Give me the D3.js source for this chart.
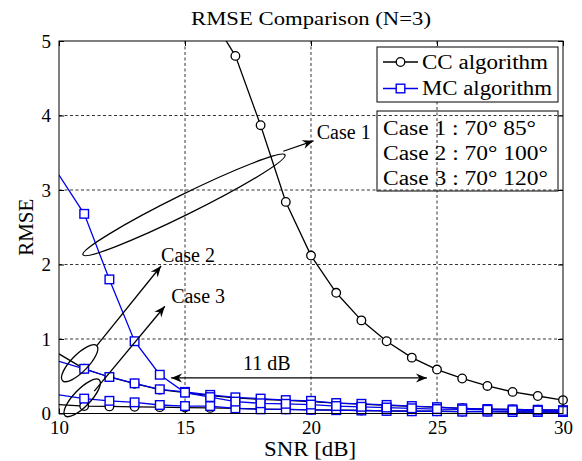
<!DOCTYPE html>
<html><head><meta charset="utf-8">
<script src="https://cdn.jsdelivr.net/npm/d3@7"></script>
<style>
html,body{margin:0;padding:0;background:#fff;}
</style></head>
<body><svg id="c" width="582" height="461"></svg>
<script>
// ---- data ----
const snr = [10,11,12,13,14,15,16,17,18,19,20,21,22,23,24,25,26,27,28,29,30];
const ccCase1 = [null,null,null,null,null,null,5.35,4.80,3.87,2.84,2.12,1.62,1.25,0.97,0.75,0.59,0.47,0.37,0.29,0.235,0.18];
const ccCase2 = [0.80,0.60,0.49,0.40,0.32,0.28,0.24,0.21,0.19,0.175,0.16,0.14,0.125,0.11,0.095,0.085,0.07,0.06,0.055,0.05,0.045];
const ccCase3 = [0.12,0.10,0.095,0.09,0.085,0.08,0.075,0.07,0.06,0.055,0.05,0.045,0.04,0.035,0.03,0.03,0.025,0.025,0.02,0.02,0.02];
const mcCase1 = [3.2,2.68,1.80,0.97,0.52,0.28,0.22,0.16,0.137,0.13,0.12,0.10,0.09,0.08,0.07,0.06,0.055,0.05,0.045,0.04,0.035];
const mcCase2 = [0.70,0.60,0.49,0.405,0.325,0.29,0.25,0.217,0.20,0.18,0.17,0.14,0.13,0.115,0.10,0.085,0.07,0.06,0.055,0.05,0.045];
const mcCase3 = [0.25,0.20,0.17,0.15,0.114,0.10,0.10,0.07,0.056,0.056,0.05,0.045,0.04,0.035,0.03,0.03,0.025,0.025,0.02,0.02,0.02];
const xTicks = [10,15,20,25,30];
const yTicks = [0,1,2,3,4,5];
const legendItems = ["CC algorithm","MC algorithm"];
const caseLines = ["Case 1 : 70\u00B0 85\u00B0","Case 2 : 70\u00B0 100\u00B0","Case 3 : 70\u00B0 120\u00B0"];
const title = "RMSE Comparison (N=3)";

// ---- layout ----
const FONT="'Liberation Serif','Times New Roman',Times,serif";
const L=59, R=563, T=41, B=413.5;
const BLUE="#0000ee";
const svg=d3.select("#c");
const x=d3.scaleLinear().domain([10,30]).range([L,R]);
const y=d3.scaleLinear().domain([0,5]).range([B,T]);

const defs=svg.append("defs");
defs.append("clipPath").attr("id","clipL").append("rect")
  .attr("x",L).attr("y",T).attr("width",R-L).attr("height",B-T);
defs.append("marker").attr("id","ah").attr("viewBox","-12 -6 14 12")
  .attr("refX",0).attr("refY",0).attr("markerWidth",14).attr("markerHeight",12)
  .attr("markerUnits","userSpaceOnUse").attr("orient","auto-start-reverse")
  .append("path").attr("d","M0,0 L-11,-4.5 L-7.5,0 L-11,4.5 Z").attr("fill","#000");

// grid
const g=svg.append("g");
g.selectAll(".gx").data(xTicks.slice(1,-1)).join("line")
  .attr("x1",d=>x(d)).attr("x2",d=>x(d)).attr("y1",T).attr("y2",B)
  .attr("stroke","#000").attr("stroke-width",0.8).attr("stroke-dasharray","3,2.5");
g.selectAll(".gy").data(yTicks.slice(1,-1)).join("line")
  .attr("x1",L).attr("x2",R).attr("y1",d=>y(d)).attr("y2",d=>y(d))
  .attr("stroke","#000").attr("stroke-width",0.8).attr("stroke-dasharray","3,2.5");

// axes with d3 axes (inward ticks)
const xAxis=svg.append("g").attr("transform",`translate(0,${B})`)
  .call(d3.axisBottom(x).tickValues(xTicks).tickFormat(d3.format("d")).tickSize(-5).tickPadding(7));
const yAxis=svg.append("g").attr("transform",`translate(${L},0)`)
  .call(d3.axisLeft(y).tickValues(yTicks).tickFormat(d3.format("d")).tickSize(-5).tickPadding(8));
[xAxis,yAxis].forEach(a=>{
  a.attr("font-family",null).attr("font-size",null);
  a.select(".domain").remove();
  a.selectAll("line").attr("stroke","#000");
  a.selectAll("text").attr("font-size",19).attr("font-family",FONT).style("font-family",FONT).attr("fill","#000");
});
yAxis.selectAll("text").attr("dy","0.33em");
xAxis.selectAll("text").attr("dy","0.7em");
svg.append("g").attr("transform",`translate(0,${T})`)
  .call(d3.axisTop(x).tickValues(xTicks).tickSize(-5).tickFormat(""))
  .call(a=>{a.select(".domain").remove();a.selectAll("line").attr("stroke","#000");});
svg.append("g").attr("transform",`translate(${R},0)`)
  .call(d3.axisRight(y).tickValues(yTicks).tickSize(-5).tickFormat(""))
  .call(a=>{a.select(".domain").remove();a.selectAll("line").attr("stroke","#000");});

// series
const mk=(vals)=>snr.map((s,i)=>({x:s,y:vals[i]})).filter(d=>d.y!=null);
const line=d3.line().x(d=>x(d.x)).y(d=>y(d.y));
const plot=svg.append("g");
const series=[
  {v:ccCase1,c:"#000",m:"o"},{v:ccCase2,c:"#000",m:"o"},{v:ccCase3,c:"#000",m:"o"},
  {v:mcCase3,c:BLUE,m:"s"},{v:mcCase2,c:BLUE,m:"s"},{v:mcCase1,c:BLUE,m:"s"}
];
series.forEach(s=>{
  const d=mk(s.v);
  plot.append("path").datum(d).attr("d",line).attr("fill","none")
    .attr("stroke",s.c).attr("stroke-width",1.3).attr("clip-path","url(#clipL)");
});
series.forEach(s=>{
  const d=mk(s.v).filter(p=>p.x>10 && p.y<=5);
  if(s.m==="o"){
    plot.selectAll(null).data(d).join("circle").attr("cx",p=>x(p.x)).attr("cy",p=>y(p.y))
      .attr("r",4.3).attr("fill","#fff").attr("stroke",s.c).attr("stroke-width",1.3);
  } else {
    plot.selectAll(null).data(d).join("rect").attr("x",p=>x(p.x)-4.3).attr("y",p=>y(p.y)-4.3)
      .attr("width",8.6).attr("height",8.6).attr("fill","#fff").attr("stroke",s.c).attr("stroke-width",1.4);
  }
});

// frame
svg.append("rect").attr("x",L).attr("y",T).attr("width",R-L).attr("height",B-T)
  .attr("fill","none").attr("stroke","#000").attr("stroke-width",1);

// annotations (data coordinates)
const ann=svg.append("g").attr("stroke","#000").attr("fill","none").attr("stroke-width",1.3);
function ellipse(x1,y1,x2,y2,ry){
  const p1=[x(x1),y(y1)], p2=[x(x2),y(y2)];
  const cx=(p1[0]+p2[0])/2, cy=(p1[1]+p2[1])/2;
  const rx=Math.hypot(p2[0]-p1[0],p2[1]-p1[1])/2;
  const ang=Math.atan2(p2[1]-p1[1],p2[0]-p1[0])*180/Math.PI;
  ann.append("ellipse").attr("cx",cx).attr("cy",cy).attr("rx",rx).attr("ry",ry)
    .attr("transform",`rotate(${ang},${cx},${cy})`);
}
function arrow(x1,y1,x2,y2,both){
  const l=ann.append("line").attr("x1",x(x1)).attr("y1",y(y1)).attr("x2",x(x2)).attr("y2",y(y2))
    .attr("marker-end","url(#ah)");
  if(both) l.attr("marker-start","url(#ah)");
}
ellipse(10.95,2.13,18.97,3.47,10);
arrow(18.9,3.52,20.1,3.66);
ellipse(10.14,0.44,11.5,0.91,8.5);
arrow(11.5,0.91,14.05,1.98);
ellipse(10.24,-0.03,11.6,0.45,8.5);
arrow(11.4,0.3,14.2,1.44);
arrow(14.45,0.477,24.6,0.477,true);

function txt(sel,t,px,py,size){
  return sel.append("text").attr("x",px).attr("y",py).attr("font-size",size)
    .attr("font-family",FONT).style("font-family",FONT).attr("fill","#000").text(t);
}
txt(svg,"Case 1",x(20.23),y(3.69),20);
txt(svg,"Case 2",x(14.05),y(2.03),20);
txt(svg,"Case 3",x(14.45),y(1.48),20);
txt(svg,"11 dB",x(17.3),y(0.585),20);

// title & labels
txt(svg,title,311,25,18.5).attr("text-anchor","middle").attr("textLength",240).attr("lengthAdjust","spacingAndGlyphs");
txt(svg,"SNR [dB]",310,456,21).attr("text-anchor","middle").attr("textLength",92).attr("lengthAdjust","spacingAndGlyphs");
txt(svg,"RMSE",0,0,21).attr("transform",`translate(33,${(T+B)/2}) rotate(-90)`).attr("text-anchor","middle");

// legend 1 (opaque)
const lg=svg.append("g");
lg.append("rect").attr("x",377).attr("y",47).attr("width",181).attr("height",55)
  .attr("fill","#fff").attr("stroke","#000").attr("stroke-width",1);
legendItems.forEach((t,i)=>{
  const yy=62+i*26.5, col=i===0?"#000":BLUE;
  lg.append("line").attr("x1",383).attr("x2",418).attr("y1",yy).attr("y2",yy).attr("stroke",col).attr("stroke-width",1.3);
  if(i===0) lg.append("circle").attr("cx",400.5).attr("cy",yy).attr("r",4.3).attr("fill","#fff").attr("stroke",col).attr("stroke-width",1.3);
  else lg.append("rect").attr("x",396.2).attr("y",yy-4.3).attr("width",8.6).attr("height",8.6).attr("fill","#fff").attr("stroke",col).attr("stroke-width",1.4);
  txt(lg,t,422,yy+6.5,20).attr("textLength",i===0?126:130).attr("lengthAdjust","spacingAndGlyphs");
});
// legend 2 (transparent text box)
lg.append("rect").attr("x",377).attr("y",111).attr("width",181).attr("height",80)
  .attr("fill","none").attr("stroke","#000").attr("stroke-width",1);
caseLines.forEach((t,i)=>{
  txt(lg,t,383,135+i*25,20).attr("textLength",i===0?153:165).attr("lengthAdjust","spacingAndGlyphs");
});
</script></body></html>
